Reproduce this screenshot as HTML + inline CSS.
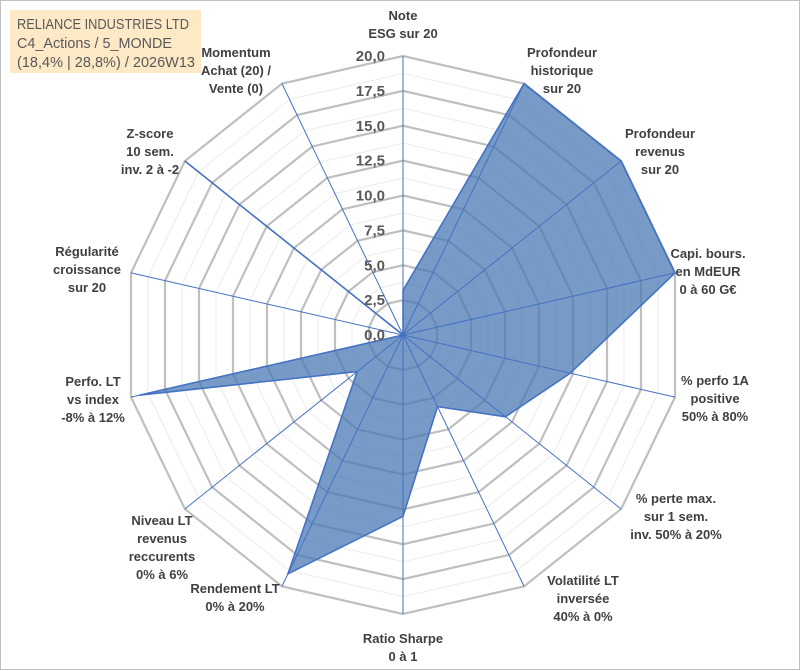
<!DOCTYPE html>
<html><head><meta charset="utf-8"><style>
body{margin:0;background:#fff;}
#wrap{position:relative;width:801px;height:671px;overflow:hidden;font-family:"Liberation Sans",sans-serif;}
svg text{font-family:"Liberation Sans",sans-serif;}
</style></head><body>
<div id="wrap">
<svg id="chart" width="801" height="671">
<rect x="0.5" y="0.5" width="799" height="669" fill="#fff" stroke="#bfbfbf"/>
<rect x="10" y="10" width="191" height="63" fill="#fde9c6"/>
<text x="17" y="29" font-size="14.5" fill="#595959" textLength="172" lengthAdjust="spacingAndGlyphs">RELIANCE INDUSTRIES LTD</text>
<text x="17" y="48" font-size="14.5" fill="#595959" textLength="155" lengthAdjust="spacingAndGlyphs">C4_Actions / 5_MONDE</text>
<text x="17" y="67" font-size="14.5" fill="#595959" textLength="178" lengthAdjust="spacingAndGlyphs">(18,4% | 28,8%) / 2026W13</text>
<g id="grid"></g><g id="series"></g><g id="spokes"></g><g id="labels"></g>
</svg>
</div>
<script>
const categories=[["Note","ESG sur 20"],["Profondeur","historique","sur 20"],["Profondeur","revenus","sur 20"],["Capi. bours.","en MdEUR","0 à 60 G€"],["% perfo 1A","positive","50% à 80%"],["% perte max.","sur 1 sem.","inv. 50% à 20%"],["Volatilité LT","inversée","40% à 0%"],["Ratio Sharpe","0 à 1"],["Rendement LT","0% à 20%"],["Niveau LT","revenus","reccurents","0% à 6%"],["Perfo. LT","vs index","-8% à 12%"],["Régularité","croissance","sur 20"],["Z-score","10 sem.","inv. 2 à -2"],["Momentum","Achat (20) /","Vente (0)"]];
const values=[3.2,20,20,20,12.3,9.4,5.7,13,19,4.2,19.4,0,20,0];
const ticks=["0,0","2,5","5,0","7,5","10,0","12,5","15,0","17,5","20,0"];
const labelPos=[[403,15],[562,52],[660,133],[708,253],[715,380],[676,498],[583,580],[403,638],[235,588],[162,520],[93,381],[87,251],[150,133],[236,52]];
const CX=403,CY=335,R=279,MAX=20,N=categories.length;
const NS="http://www.w3.org/2000/svg";
function pt(i,v){const a=2*Math.PI*i/N;const r=v/MAX*R;return [CX+r*Math.sin(a),CY-r*Math.cos(a)];}
function mk(tag,attrs,parent){const e=document.createElementNS(NS,tag);for(const k in attrs)e.setAttribute(k,attrs[k]);parent.appendChild(e);return e;}
const grid=document.getElementById('grid');
for(let s=1;s<=16;s++){const v=s*1.25;const p=[];for(let i=0;i<N;i++)p.push(pt(i,v).join(','));
 const major=s%2===0;
 const el=mk('polygon',{points:p.join(' '),fill:'none',stroke:major?'#bfbfbf':'#ebebeb','stroke-width':major?2.2:1},grid);
 
 }
const sp=document.getElementById('spokes');
for(let i=0;i<N;i++){const e=pt(i,MAX);const l=mk('line',{x1:CX,y1:CY,x2:e[0],y2:e[1],stroke:'#4472c4','stroke-width':1},sp);
 
 }
const ser=document.getElementById('series');
const sp2=values.map((v,i)=>pt(i,v).join(',')).join(' ');
const poly=mk('polygon',{points:sp2,fill:'#4a7ab3','fill-opacity':0.75,stroke:'#4472c4','stroke-width':1.6,'stroke-linejoin':'miter'},ser);


const lb=document.getElementById('labels');
ticks.forEach((t,k)=>{const v=k*2.5;const y=CY-v/MAX*R;
 const tx=mk('text',{x:385,y:y+5,'text-anchor':'end','font-size':15,'font-weight':'bold',fill:'#595959'},lb);tx.textContent=t;
 
 });
categories.forEach((c,i)=>{const [x,y]=labelPos[i];
 const t=mk('text',{'text-anchor':'middle','font-size':13,'font-weight':'bold',fill:'#404040'},lb);
 
 
 c.forEach((line,j)=>{const ts=mk('tspan',{x:x,y:y+5+j*18},t);ts.textContent=line;});});
</script>
</body></html>
